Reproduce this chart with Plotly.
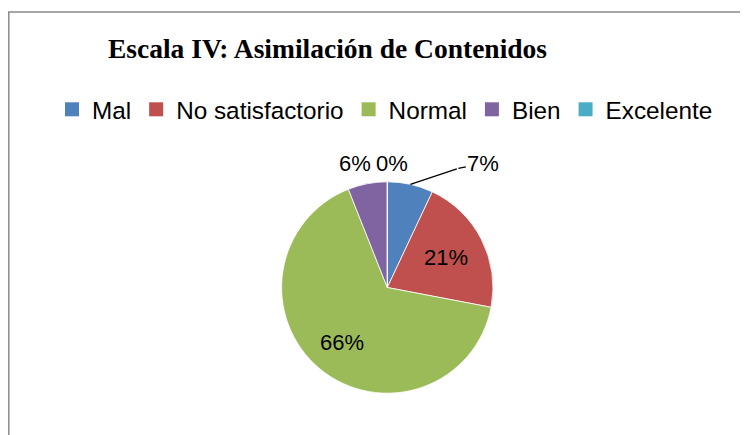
import math
import plotly.graph_objects as go

categories = ["Mal", "No satisfactorio", "Normal", "Bien", "Excelente"]
values = [7, 21, 66, 6, 0]
colors = ["#4F81BD", "#C0504D", "#9BBB59", "#8064A2", "#4BACC6"]
title_text = "Escala IV: Asimilación de Contenidos"

# label placement style per slice: (radius factor, x shift px, y shift px, leader line)
label_style = [
    (1.0, 73, -21, True),
    (0.62, 0, 0, False),
    (0.67, 0, 0, False),
    (1.0, -12, -20, False),
    (1.0, 5, -18, False),
]

W, H = 748, 435
OFF = 8  # page body margin
cx, cy, R = 387.3 - OFF, 287.5 - OFF, 105.7  # pie centre / radius in figure px


def px(x):
    return x / W


def py(y):
    return 1 - y / H


fig = go.Figure()
fig.add_trace(go.Pie(
    labels=categories,
    values=values,
    sort=False,
    direction="clockwise",
    rotation=0,
    marker=dict(colors=colors, line=dict(color="white", width=0.8)),
    textinfo="none",
    domain=dict(x=[px(cx - R), px(cx + R)], y=[py(cy + R), py(cy - R)]),
    automargin=False,
    showlegend=False,
    hoverinfo="label+percent",
))

# legend entries (square keys) for the same categories
for cat, col in zip(categories, colors):
    fig.add_trace(go.Scatter(
        x=[None], y=[None], mode="markers", name=cat,
        marker=dict(symbol="square", size=14, color=col, line=dict(width=0)),
        hoverinfo="skip",
    ))

total = sum(values)
annotations = []
cum = 0.0
for v, (rf, dx, dy, leader) in zip(values, label_style):
    mid = (cum + v / 2) / total * 2 * math.pi
    cum += v
    x = cx + rf * R * math.sin(mid)
    y = cy - rf * R * math.cos(mid)
    txt = f"{round(100 * v / total)}%"
    font = dict(family="Liberation Sans", size=22, color="black")
    if leader:
        ex, ey = x + dx - 25, y + dy + 5  # elbow of the leader line
        annotations.append(dict(
            x=px(x), y=py(y), xref="paper", yref="paper", text="",
            showarrow=True, arrowhead=0, arrowwidth=1.2, arrowcolor="black",
            ax=ex - x, ay=ey - y, standoff=0, startstandoff=0))
        annotations.append(dict(
            x=px(ex), y=py(ey), xref="paper", yref="paper", text=txt,
            showarrow=True, arrowhead=0, arrowwidth=1.2, arrowcolor="black",
            ax=25, ay=-5, standoff=0,
            xanchor="center", yanchor="middle", font=font))
    else:
        annotations.append(dict(
            x=px(x + dx), y=py(y + dy), xref="paper", yref="paper", text=txt,
            showarrow=False, xanchor="center", yanchor="middle", font=font))

fig.update_layout(
    width=W, height=H,
    margin=dict(l=0, r=0, t=0, b=0),
    paper_bgcolor="white",
    plot_bgcolor="white",
    xaxis=dict(visible=False),
    yaxis=dict(visible=False),
    title=dict(text="<b>" + title_text + "</b>", x=px(327.5 - OFF), xanchor="center",
               y=py(48 - OFF), yanchor="middle",
               font=dict(family="Liberation Serif", size=27.5, color="black")),
    legend=dict(orientation="h", x=px(52 - OFF), xanchor="left", y=py(109.5 - OFF), yanchor="middle",
                font=dict(family="Liberation Sans", size=24.3, color="black"),
                traceorder="normal", itemwidth=30, itemsizing="trace"),
    annotations=annotations,
    shapes=[dict(type="rect", xref="paper", yref="paper",
                 x0=px(0.8), x1=1.05, y0=-0.05, y1=py(12 - OFF),
                 line=dict(color="#8a8a8a", width=1.5), fillcolor="rgba(0,0,0,0)")],
)

fig.write_html("out.html")
